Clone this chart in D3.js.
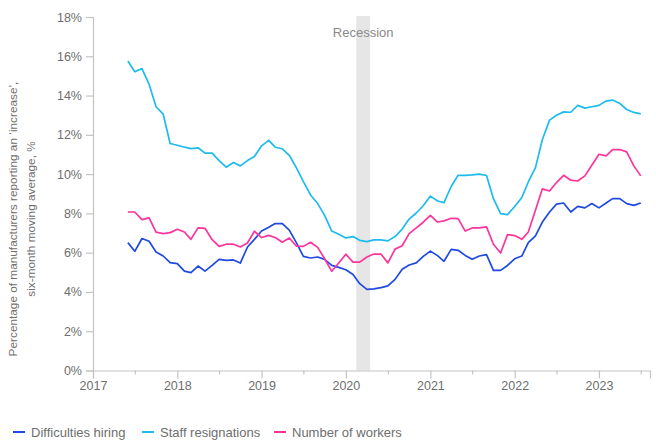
<!DOCTYPE html>
<html>
<head>
<meta charset="utf-8">
<script src="https://cdn.jsdelivr.net/npm/d3@7"></script>
<style>
  body { margin: 0; background: #fff; }
  text { font-family: Arial, "Liberation Sans", sans-serif; }
</style>
</head>
<body>
<svg id="canvas"></svg>
<script>
// monthly values, June 2017 to July 2023
let firstMonth = new Date(2017, 5, 1)

let hiring = [6.51, 6.07, 6.72, 6.58, 6.03, 5.83, 5.49, 5.44, 5.06, 4.98, 5.32, 5.06,
  5.35, 5.66, 5.61, 5.63, 5.47, 6.29, 6.68, 7.10, 7.29, 7.48, 7.48, 7.15,
  6.50, 5.81, 5.73, 5.78, 5.66, 5.35, 5.25, 5.13, 4.89, 4.42, 4.13, 4.16,
  4.22, 4.31, 4.64, 5.16, 5.37, 5.48, 5.81, 6.08, 5.85, 5.56, 6.17, 6.12,
  5.86, 5.66, 5.83, 5.90, 5.10, 5.10, 5.35, 5.69, 5.83, 6.51, 6.85, 7.56,
  8.07, 8.47, 8.53, 8.07, 8.36, 8.28, 8.50, 8.28, 8.53, 8.75, 8.75, 8.50,
  8.41, 8.53]

let resignations = [15.76, 15.21, 15.37, 14.57, 13.43, 13.05, 11.56, 11.47, 11.37, 11.30, 11.34, 11.07,
  11.07, 10.69, 10.35, 10.59, 10.42, 10.69, 10.90, 11.44, 11.72, 11.37, 11.29, 10.96,
  10.32, 9.62, 8.94, 8.50, 7.90, 7.10, 6.94, 6.75, 6.82, 6.63, 6.56, 6.65,
  6.65, 6.60, 6.82, 7.20, 7.71, 8.02, 8.39, 8.88, 8.63, 8.55, 9.37, 9.94,
  9.94, 9.96, 10.00, 9.93, 8.75, 7.99, 7.94, 8.35, 8.81, 9.60, 10.33, 11.76,
  12.75, 13.00, 13.17, 13.15, 13.50, 13.36, 13.43, 13.50, 13.72, 13.77, 13.60, 13.29,
  13.14, 13.07]

let workers = [8.07, 8.07, 7.68, 7.77, 7.05, 6.97, 7.02, 7.19, 7.05, 6.68, 7.26, 7.24,
  6.66, 6.32, 6.43, 6.43, 6.29, 6.49, 7.09, 6.77, 6.88, 6.77, 6.53, 6.75,
  6.33, 6.32, 6.53, 6.27, 5.69, 5.05, 5.47, 5.92, 5.52, 5.52, 5.78, 5.93,
  5.93, 5.48, 6.18, 6.35, 6.97, 7.26, 7.55, 7.90, 7.56, 7.62, 7.75, 7.73,
  7.10, 7.26, 7.26, 7.31, 6.43, 5.98, 6.92, 6.87, 6.68, 7.05, 8.16, 9.25,
  9.14, 9.57, 9.94, 9.69, 9.65, 9.91, 10.45, 11.01, 10.93, 11.25, 11.25, 11.13,
  10.42, 9.91]

let seriesNames = ["Difficulties hiring", "Staff resignations", "Number of workers"]
let seriesColors = ["#1e49e2", "#1ebbee", "#fd349c"]
let yearTicks = [2017, 2018, 2019, 2020, 2021, 2022, 2023]
let yTicks = [0, 2, 4, 6, 8, 10, 12, 14, 16, 18]
let recession = [new Date(2020, 1, 15), new Date(2020, 3, 15)]

let width = 656
let height = 441
let plotLeft = 93
let plotRight = 650
let plotTop = 17
let plotBottom = 370.5
let grey = "#c4c4c4"
let textGrey = "#6e6e6e"

let svg = d3.select("#canvas")
    .attr("width", width)
    .attr("height", height)

let xScale = d3.scaleTime()
    .domain([new Date(2017, 0, 1), new Date(2023, 7, 10)])
    .range([plotLeft, plotRight])

let yScale = d3.scaleLinear()
    .domain([0, 18])
    .range([plotBottom, plotTop])

let monthOf = (i) => d3.timeMonth.offset(firstMonth, i)

// recession band
svg.append("rect")
    .attr("x", xScale(recession[0]))
    .attr("y", yScale(18) - 1)
    .attr("width", xScale(recession[1]) - xScale(recession[0]))
    .attr("height", yScale(0) - yScale(18) + 1)
    .attr("fill", "#e6e6e6")

svg.append("text")
    .attr("x", (xScale(recession[0]) + xScale(recession[1])) / 2)
    .attr("y", 37)
    .attr("text-anchor", "middle")
    .attr("font-size", 13)
    .attr("fill", "#8a8a8a")
    .text("Recession")

// axes
let xAxis = d3.axisBottom(xScale)
    .tickValues(yearTicks.map((y) => new Date(y, 0, 1)))
    .tickFormat(d3.timeFormat("%Y"))
    .tickSize(8)
    .tickPadding(3)

let xMinor = d3.axisBottom(xScale)
    .tickValues(yearTicks.map((y) => new Date(y, 6, 1)))
    .tickFormat("")
    .tickSize(4)

let yAxis = d3.axisLeft(yScale)
    .tickValues(yTicks)
    .tickFormat((d) => d + "%")
    .tickSize(7)
    .tickPadding(4)

svg.append("g")
    .attr("transform", "translate(0," + plotBottom + ")")
    .call(xAxis)
svg.append("g")
    .attr("transform", "translate(0," + plotBottom + ")")
    .call(xMinor)
    .select(".domain").remove()

svg.append("g")
    .attr("transform", "translate(" + plotLeft + ",0)")
    .call(yAxis)

svg.selectAll(".domain").attr("stroke", grey).attr("stroke-width", 1.2)
svg.selectAll(".tick line").attr("stroke", grey).attr("stroke-width", 1.2)
svg.selectAll(".tick text")
    .attr("fill", textGrey)
    .attr("font-size", 12.5)
    .attr("font-family", "Arial, 'Liberation Sans', sans-serif")

// y label
let yLabel = svg.append("text")
    .attr("transform", "translate(17,219) rotate(-90)")
    .attr("text-anchor", "middle")
    .attr("font-size", 11.8)
    .attr("fill", textGrey)
yLabel.append("tspan").attr("x", 0).attr("dy", 0)
    .text("Percentage of manufacturers reporting an \u2018increase\u2019,")
yLabel.append("tspan").attr("x", 0).attr("dy", 17.5)
    .text("six-month moving average, %")

// lines
let line = d3.line()
    .x((d, i) => xScale(monthOf(i)))
    .y((d) => yScale(d))

let allSeries = [hiring, resignations, workers]
svg.selectAll(".series")
    .data(allSeries)
    .enter()
    .append("path")
    .attr("class", "series")
    .attr("d", (d) => line(d))
    .attr("fill", "none")
    .attr("stroke", (d, i) => seriesColors[i])
    .attr("stroke-width", 1.7)
    .attr("stroke-linejoin", "round")

// legend
let legendX = [13, 142, 274]
let legend = svg.selectAll(".legend")
    .data(seriesNames)
    .enter()
    .append("g")
    .attr("class", "legend")
    .attr("transform", (d, i) => "translate(" + legendX[i] + ",432)")

legend.append("line")
    .attr("x1", 0)
    .attr("x2", 12)
    .attr("stroke", (d, i) => seriesColors[i])
    .attr("stroke-width", 2)

legend.append("text")
    .attr("x", 18)
    .attr("y", 4.5)
    .attr("font-size", 13)
    .attr("fill", textGrey)
    .text((d) => d)
</script>
</body>
</html>
